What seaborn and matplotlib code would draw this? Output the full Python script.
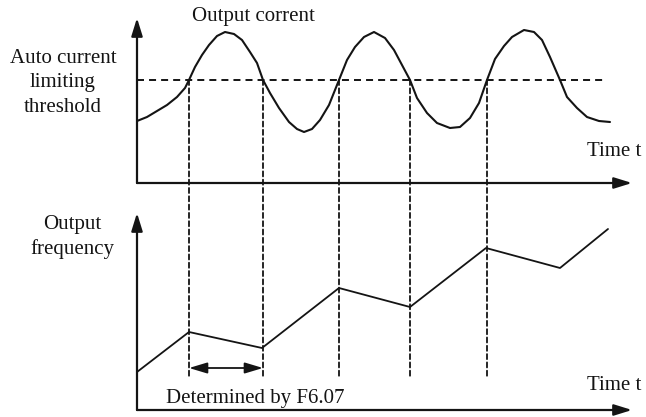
import matplotlib
matplotlib.use("Agg")
import matplotlib.pyplot as plt
import seaborn as sns
import pandas as pd
from matplotlib.patches import ConnectionPatch

# ---------------- data (arbitrary units) ----------------
cur_time = [0.00, 0.10, 0.20, 0.30, 0.40, 0.48, 0.52, 0.58, 0.65, 0.72, 0.80, 0.88,
            0.97, 1.05, 1.13, 1.20, 1.26, 1.33, 1.42, 1.52, 1.60, 1.67, 1.75, 1.83,
            1.92, 2.02, 2.10, 2.18, 2.27, 2.37, 2.48, 2.57, 2.65, 2.73, 2.80, 2.90,
            3.00, 3.13, 3.23, 3.33, 3.42, 3.50, 3.58, 3.67, 3.75, 3.87, 3.97, 4.05,
            4.13, 4.23, 4.30, 4.40, 4.50, 4.62, 4.73]
cur_value = [0.62, 0.66, 0.72, 0.78, 0.86, 0.95, 1.03, 1.16, 1.28, 1.38, 1.47, 1.51,
             1.49, 1.43, 1.31, 1.20, 1.03, 0.90, 0.75, 0.61, 0.54, 0.51, 0.54, 0.63,
             0.78, 1.03, 1.23, 1.36, 1.46, 1.51, 1.45, 1.33, 1.18, 1.03, 0.85, 0.70,
             0.60, 0.55, 0.56, 0.65, 0.80, 1.03, 1.24, 1.37, 1.46, 1.53, 1.51, 1.43,
             1.26, 1.03, 0.86, 0.75, 0.66, 0.62, 0.61]
threshold_level = 1.03
threshold_end = 4.67

freq_time = [0.00, 0.52, 1.25, 2.02, 2.73, 3.49, 4.23, 4.71]
freq_value = [0.38, 0.78, 0.62, 1.22, 1.03, 1.62, 1.42, 1.81]

cross_times = [0.52, 1.26, 2.02, 2.73, 3.50]
cross_bottom = 0.33
span_level = 0.42

top_xlim, top_ylim = 4.95, 1.65
bot_xlim, bot_ylim = 4.95, 1.97

labels = {
    "title": "Output corrent",
    "thr": "Auto current\nlimiting\nthreshold",
    "freq": "Output\nfrequency",
    "time": "Time t",
    "det": "Determined by F6.07",
}

# ---------------- style ----------------
sns.set_style("white")
plt.rcParams["font.family"] = ["Liberation Serif", "DejaVu Serif"]
plt.rcParams["lines.solid_joinstyle"] = "round"
INK = "#141414"
FS = 15

W, H = 646, 417
fig = plt.figure(figsize=(W / 100, H / 100), dpi=100)
fig.patch.set_facecolor("white")

ax_top = fig.add_axes([137 / W, (H - 183) / H, 495 / W, 165 / H])
ax_bot = fig.add_axes([137 / W, (H - 410) / H, 495 / W, 197 / H])

df_cur = pd.DataFrame({"t": cur_time, "v": cur_value})
df_freq = pd.DataFrame({"t": freq_time, "v": freq_value})
df_thr = pd.DataFrame({"t": [0.0, threshold_end], "v": [threshold_level, threshold_level]})

sns.lineplot(data=df_cur, x="t", y="v", ax=ax_top, color=INK, lw=1.5,
             estimator=None, sort=False)
sns.lineplot(data=df_thr, x="t", y="v", ax=ax_top, color=INK, lw=1.4,
             estimator=None, sort=False)
ax_top.lines[-1].set_dashes((3.6, 2.6))
sns.lineplot(data=df_freq, x="t", y="v", ax=ax_bot, color=INK, lw=1.3,
             estimator=None, sort=False)

for ax, xl, yl in [(ax_top, top_xlim, top_ylim), (ax_bot, bot_xlim, bot_ylim)]:
    ax.set_xlim(0, xl)
    ax.set_ylim(0, yl)
    ax.set_xticks([])
    ax.set_yticks([])
    ax.set_xlabel("")
    ax.set_ylabel("")
    for s in ax.spines.values():
        s.set_visible(False)
    ax.patch.set_alpha(0)
    ax.annotate("", xy=(1, 0), xytext=(0, 0), xycoords="axes fraction",
                arrowprops=dict(arrowstyle="-|>,head_length=0.9,head_width=0.28",
                                mutation_scale=12, lw=1.6, color=INK,
                                shrinkA=0, shrinkB=0))
    ax.annotate("", xy=(0, 1), xytext=(0, 0), xycoords="axes fraction",
                arrowprops=dict(arrowstyle="-|>,head_length=0.9,head_width=0.28",
                                mutation_scale=12, lw=1.6, color=INK,
                                shrinkA=0, shrinkB=0))

# vertical dashed guide lines spanning both panels
for t in cross_times:
    con = ConnectionPatch(xyA=(t, threshold_level), coordsA=ax_top.transData,
                          xyB=(t, cross_bottom), coordsB=ax_bot.transData,
                          color=INK, lw=1.3, linestyle=(0, (2.8, 1.8)))
    fig.add_artist(con)

# double arrow "Determined by F6.07"
ax_bot.annotate("", xy=(cross_times[1], span_level), xytext=(cross_times[0], span_level),
                xycoords="data",
                arrowprops=dict(arrowstyle="<|-|>,head_length=1.0,head_width=0.3",
                                mutation_scale=11, lw=1.3, color=INK,
                                shrinkA=0, shrinkB=0))

def ftext(x, y, s, **kw):
    fig.text(x / W, 1 - y / H, s, ha="center", va="center", fontsize=FS,
             color=INK, **kw)

ftext(253, 17, labels["title"])
ftext(63, 83, labels["thr"], linespacing=1.4)
ftext(72, 237, labels["freq"], linespacing=1.4)
ftext(614, 152, labels["time"])
ftext(614, 385, labels["time"])
ftext(255, 398, labels["det"])

fig.savefig("out.png", dpi=100, facecolor="white")
